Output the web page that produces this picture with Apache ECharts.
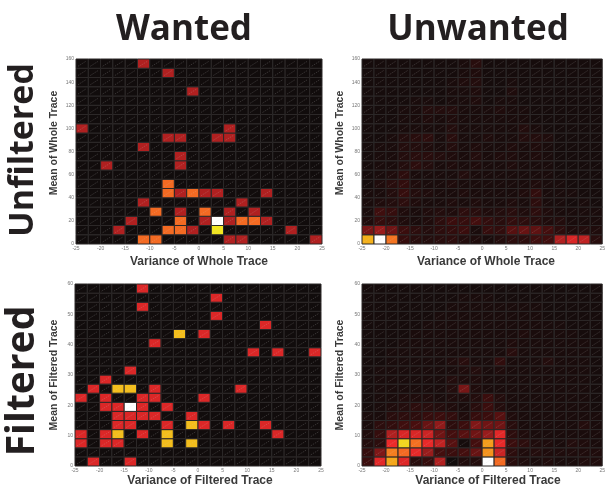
<!DOCTYPE html>
<html>
<head>
<meta charset="utf-8">
<script src="https://cdn.jsdelivr.net/npm/echarts@6/dist/echarts.min.js"></script>
<style>
  html, body { margin: 0; padding: 0; background: #fff; }
  #main { width: 608px; height: 489px; }
</style>
</head>
<body>
<div id="main"></div>
<script>
// tick labels
var xTicks = [-25, 25];
var yTicksTop = [0, 160];
var yTicksBottom = [0, 60];

// wanted: sparse counts [column, row from bottom, count]
var wantedWhole = [
    [5, 19, 1], [7, 18, 1], [9, 16, 1], [0, 12, 1], [12, 12, 1],
    [7, 11, 1], [8, 11, 1], [11, 11, 1], [12, 11, 1], [5, 10, 1],
    [8, 9, 1], [2, 8, 1], [8, 8, 1], [7, 6, 2],
    [7, 5, 2], [8, 5, 1], [9, 5, 2], [10, 5, 1], [11, 5, 1], [15, 5, 1],
    [5, 4, 1], [13, 4, 1],
    [6, 3, 2], [8, 3, 1], [10, 3, 2], [12, 3, 1], [14, 3, 1],
    [4, 2, 1], [8, 2, 2], [10, 2, 1], [11, 2, 4], [12, 2, 1], [13, 2, 2], [14, 2, 2], [15, 2, 1],
    [3, 1, 1], [7, 1, 2], [8, 1, 2], [9, 1, 1], [11, 1, 3], [17, 1, 1],
    [5, 0, 2], [6, 0, 2], [12, 0, 1], [13, 0, 1], [19, 0, 1]
];
var wantedFiltered = [
    [5, 19, 1], [11, 18, 1], [5, 17, 1], [11, 16, 1], [15, 15, 1],
    [8, 14, 2], [10, 14, 1], [6, 13, 1], [14, 12, 1], [16, 12, 1], [19, 12, 1],
    [4, 10, 1], [2, 9, 1],
    [1, 8, 1], [3, 8, 2], [4, 8, 2], [6, 8, 1], [13, 8, 1],
    [0, 7, 1], [2, 7, 1], [5, 7, 1], [6, 7, 1], [10, 7, 1],
    [2, 6, 1], [3, 6, 1], [4, 6, 3], [5, 6, 1], [7, 6, 1],
    [3, 5, 1], [4, 5, 1], [5, 5, 1], [6, 5, 1], [9, 5, 1],
    [3, 4, 1], [4, 4, 1], [7, 4, 1], [9, 4, 2], [10, 4, 1], [12, 4, 1], [15, 4, 1],
    [0, 3, 1], [2, 3, 1], [3, 3, 2], [5, 3, 1], [7, 3, 2], [16, 3, 1],
    [0, 2, 1], [2, 2, 1], [3, 2, 1], [7, 2, 2], [9, 2, 2],
    [1, 0, 1], [4, 0, 1]
];

// unwanted: relative density, rows listed from the bottom
var unwantedWhole = [
    [64, 100, 52, 8, 5, 4, 5, 6, 4, 3, 2, 4, 6, 6, 10, 10, 25, 33, 28, 5],
    [18, 22, 17, 9, 6, 4, 6, 7, 9, 2, 8, 7, 14, 16, 15, 11, 6, 3, 4, 3],
    [3, 8, 6, 3, 2, 3, 6, 9, 8, 11, 7, 5, 7, 6, 5, 3, 4, 2, 2, 2],
    [2, 10, 8, 3, 2, 3, 4, 3, 6, 5, 3, 4, 5, 3, 6, 3, 2, 2, 2, 2],
    [2, 3, 4, 6, 3, 2, 2, 3, 2, 3, 2, 2, 3, 2, 6, 2, 2, 1, 2, 1],
    [2, 2, 4, 8, 4, 3, 2, 2, 3, 2, 2, 2, 2, 3, 7, 2, 2, 2, 1, 1],
    [1, 3, 5, 7, 3, 2, 2, 3, 2, 2, 2, 2, 2, 2, 3, 2, 2, 1, 1, 1],
    [1, 2, 3, 6, 2, 2, 2, 2, 4, 2, 2, 2, 2, 2, 2, 2, 1, 1, 1, 1],
    [1, 2, 2, 4, 6, 4, 2, 3, 2, 3, 2, 2, 3, 2, 2, 2, 1, 1, 1, 1],
    [1, 2, 2, 4, 5, 5, 4, 3, 2, 4, 2, 3, 3, 2, 3, 2, 1, 1, 1, 1],
    [1, 2, 2, 4, 4, 3, 2, 4, 2, 3, 2, 2, 3, 2, 3, 2, 1, 1, 1, 1],
    [1, 1, 2, 4, 5, 6, 2, 5, 2, 2, 3, 2, 2, 4, 4, 3, 1, 1, 1, 1],
    [1, 1, 1, 2, 2, 2, 2, 4, 2, 2, 2, 2, 2, 4, 2, 1, 1, 1, 1, 1],
    [1, 1, 1, 2, 2, 3, 2, 3, 2, 2, 2, 2, 2, 2, 1, 1, 1, 1, 1, 1],
    [1, 1, 1, 2, 2, 4, 4, 4, 2, 2, 2, 3, 2, 2, 1, 1, 1, 1, 1, 1],
    [1, 1, 1, 1, 2, 2, 1, 2, 2, 3, 1, 2, 2, 1, 1, 1, 1, 1, 1, 1],
    [1, 1, 1, 1, 1, 1, 1, 2, 2, 3, 1, 1, 3, 1, 1, 1, 1, 1, 1, 1],
    [1, 1, 1, 1, 1, 1, 1, 2, 3, 4, 1, 1, 2, 1, 1, 1, 1, 1, 1, 1],
    [1, 1, 1, 1, 1, 1, 1, 1, 2, 3, 1, 1, 1, 1, 1, 1, 1, 1, 1, 1],
    [1, 1, 1, 1, 1, 1, 1, 1, 2, 5, 1, 1, 1, 1, 1, 1, 1, 1, 1, 1]
];
var unwantedFiltered = [
    [9, 35, 62, 34, 5, 8, 25, 0, 3, 4, 100, 50, 5, 3, 2, 3, 2, 2, 3, 3],
    [8, 19, 54, 50, 36, 22, 11, 9, 11, 16, 58, 30, 6, 3, 4, 3, 3, 3, 3, 3],
    [4, 6, 37, 72, 51, 36, 28, 14, 1, 11, 60, 36, 9, 6, 3, 3, 2, 4, 3, 2],
    [3, 8, 25, 33, 33, 30, 17, 11, 14, 17, 22, 35, 6, 3, 2, 2, 2, 2, 2, 2],
    [2, 6, 7, 10, 12, 16, 21, 6, 9, 19, 17, 17, 5, 2, 2, 2, 2, 2, 4, 2],
    [2, 2, 5, 6, 6, 8, 9, 7, 3, 8, 9, 14, 3, 2, 2, 2, 2, 2, 2, 2],
    [1, 2, 3, 4, 6, 5, 4, 3, 2, 5, 9, 4, 2, 2, 2, 2, 2, 2, 2, 1],
    [1, 2, 2, 3, 3, 3, 2, 3, 3, 4, 9, 4, 2, 2, 2, 2, 2, 2, 2, 1],
    [1, 2, 2, 2, 2, 2, 2, 4, 18, 3, 2, 2, 2, 2, 2, 2, 2, 2, 2, 1],
    [1, 2, 2, 2, 2, 2, 2, 4, 3, 3, 2, 2, 2, 2, 2, 2, 2, 2, 2, 1],
    [1, 2, 2, 2, 2, 2, 2, 2, 3, 4, 2, 3, 2, 2, 2, 2, 2, 2, 2, 1],
    [1, 1, 2, 2, 2, 2, 2, 3, 5, 2, 2, 7, 2, 2, 2, 4, 2, 2, 2, 1],
    [1, 1, 2, 2, 2, 2, 2, 2, 2, 2, 2, 2, 5, 2, 2, 2, 2, 2, 2, 1],
    [1, 1, 1, 2, 2, 2, 2, 2, 2, 2, 2, 2, 3, 2, 2, 2, 2, 2, 2, 1],
    [1, 1, 1, 1, 2, 2, 2, 2, 2, 2, 2, 2, 2, 3, 2, 2, 2, 2, 1, 1],
    [1, 1, 1, 1, 1, 2, 2, 2, 2, 2, 2, 2, 2, 2, 2, 2, 2, 1, 1, 1],
    [1, 1, 1, 1, 1, 1, 2, 2, 2, 2, 2, 2, 2, 2, 2, 1, 1, 1, 1, 1],
    [1, 1, 1, 1, 1, 1, 1, 2, 2, 2, 2, 2, 2, 2, 2, 1, 1, 1, 1, 1],
    [1, 1, 1, 1, 1, 1, 1, 1, 2, 2, 2, 1, 1, 1, 1, 1, 1, 1, 1, 1],
    [1, 1, 1, 1, 1, 1, 1, 1, 1, 1, 1, 1, 1, 1, 1, 1, 1, 1, 1, 1]
];

var N = 20;
// 'hot' colour map
var hot = ['#110c0c', '#4a0e0e', '#b02020', '#f02a2a', '#f46a22', '#f5aa1a', '#f2e620', '#fafa90', '#ffffff'];

function fromSparse(list) {
    var grid = [];
    for (var r = 0; r < N; r++) {
        for (var c = 0; c < N; c++) grid.push([c, r, 0]);
    }
    list.forEach(function (d) { grid[d[1] * N + d[0]][2] = d[2]; });
    return grid;
}
function fromRows(rows) {
    var out = [];
    rows.forEach(function (row, r) {
        row.forEach(function (v, c) { out.push([c, r, v]); });
    });
    return out;
}

function cellRenderer(xr, yr) {
    return function (params, api) {
        var c = api.value(0), r = api.value(1);
        var dx = (xr[1] - xr[0]) / N, dy = (yr[1] - yr[0]) / N;
        var p0 = api.coord([xr[0] + c * dx, yr[0] + r * dy]);
        var p1 = api.coord([xr[0] + (c + 1) * dx, yr[0] + (r + 1) * dy]);
        return {
            type: 'group',
            children: [{
                type: 'rect',
                shape: { x: p0[0], y: p1[1], width: p1[0] - p0[0], height: p0[1] - p1[1] },
                style: { fill: api.visual('color'), stroke: '#2c2828', lineWidth: 1 }
            }, {
                type: 'line',
                shape: { x1: p0[0] + 2, y1: p0[1] - 2, x2: p1[0] - 2, y2: p1[1] + 2 },
                style: { stroke: 'rgba(200,200,200,0.35)', lineWidth: 0.6, lineDash: [1.5, 1] }
            }]
        };
    };
}

var grids = [
    { left: 76, top: 59, width: 246, height: 185 },
    { left: 362, top: 59, width: 245, height: 185 },
    { left: 75, top: 284, width: 246, height: 182 },
    { left: 362, top: 284, width: 245, height: 182 }
];
var yRanges = [yTicksTop, yTicksTop, yTicksBottom, yTicksBottom];
var yIntervals = [20, 20, 10, 10];
var panels = [fromSparse(wantedWhole), fromRows(unwantedWhole), fromSparse(wantedFiltered), fromRows(unwantedFiltered)];
var maxes = [4, 100, 3, 100];

var tickLabel = { fontSize: 5, color: '#777', margin: 2, fontFamily: 'Liberation Sans' };

function label(text, x, y, font, fill, rotated) {
    return {
        type: 'text', x: x, y: y, rotation: rotated ? Math.PI / 2 : 0,
        style: { text: text, font: font, fill: fill, align: 'center', verticalAlign: 'middle' }
    };
}
var big = 'bold 35px "Open Sans"';
var yName = 'bold 10.5px "Liberation Sans"';
var xName = 'bold 12px "Liberation Sans"';

var dom = document.getElementById('main');
var myChart = echarts.init(dom);
var option = {
    backgroundColor: '#ffffff',
    animation: false,
    grid: grids,
    xAxis: grids.map(function (g, i) {
        return {
            type: 'value', gridIndex: i, min: xTicks[0], max: xTicks[1], interval: 5,
            axisLine: { show: false }, axisTick: { show: false }, splitLine: { show: false },
            axisLabel: tickLabel
        };
    }),
    yAxis: grids.map(function (g, i) {
        return {
            type: 'value', gridIndex: i, min: yRanges[i][0], max: yRanges[i][1], interval: yIntervals[i],
            axisLine: { show: false }, axisTick: { show: false }, splitLine: { show: false },
            axisLabel: tickLabel
        };
    }),
    visualMap: panels.map(function (p, i) {
        return {
            type: 'continuous', show: false, seriesIndex: i, dimension: 2,
            min: 0, max: maxes[i], inRange: { color: hot }
        };
    }),
    series: panels.map(function (p, i) {
        return {
            type: 'custom',
            xAxisIndex: i, yAxisIndex: i,
            renderItem: cellRenderer(xTicks, yRanges[i]),
            data: p
        };
    }),
    graphic: [
        label('Wanted', 184, 30, big, '#231f20'),
        label('Unwanted', 478, 30, big, '#231f20'),
        label('Unfiltered', 23, 150, 'bold 34px "Open Sans"', '#231f20', true),
        label('Filtered', 23, 381, 'bold 39px "Open Sans"', '#231f20', true),
        label('Mean of Whole Trace', 54, 143, yName, '#3a3a3a', true),
        label('Mean of Whole Trace', 340, 143, yName, '#3a3a3a', true),
        label('Mean of Filtered Trace', 54, 375, yName, '#3a3a3a', true),
        label('Mean of Filtered Trace', 340, 375, yName, '#3a3a3a', true),
        label('Variance of Whole Trace', 199, 262, xName, '#3a3a3a'),
        label('Variance of Whole Trace', 486, 262, xName, '#3a3a3a'),
        label('Variance of Filtered Trace', 200, 481, xName, '#3a3a3a'),
        label('Variance of Filtered Trace', 488, 481, xName, '#3a3a3a')
    ]
};

if (option && typeof option === 'object') {
    myChart.setOption(option);
}
</script>
</body>
</html>
